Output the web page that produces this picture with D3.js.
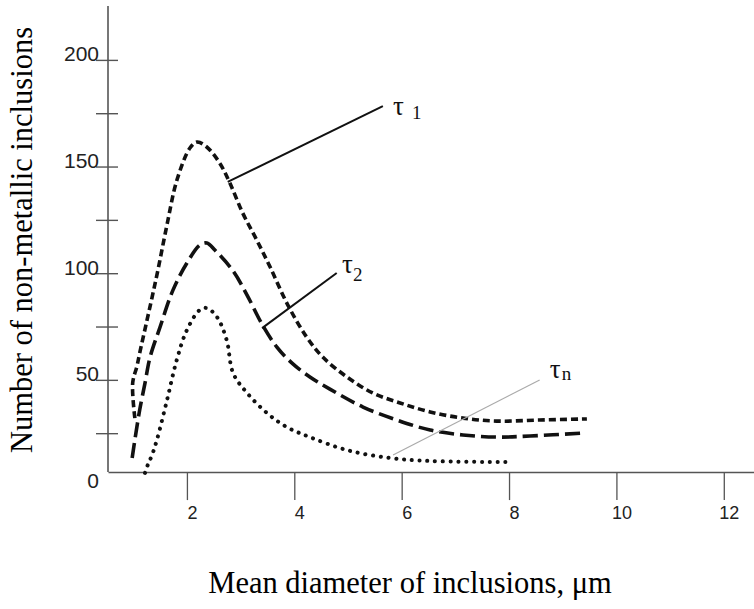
<!DOCTYPE html>
<meta charset="utf-8">
<style>
body{
  margin: 0;
  background: white;
}
.tick_lbl{
  font-family: "Liberation Sans", Arial, sans-serif;
  fill: #222;
}
.title_lbl{
  font-family: "Liberation Serif", "Times New Roman", serif;
  fill: black;
}
.tau_lbl{
  font-family: "Liberation Serif", "Times New Roman", serif;
  fill: #111;
}
</style>

<script src="https://d3js.org/d3.v7.min.js"></script>

<svg id="chart_svg"></svg>

<script>
// settings
var svg_width = 754, svg_height = 609;

// data: mean diameter (um) vs number of inclusions
var tau1X = [1.03, 0.99, 1.07, 1.125, 1.236, 1.348, 1.46, 1.628, 1.814, 2.056, 2.19, 2.37, 2.61, 2.80, 3.04, 3.30, 3.55, 3.88, 4.23, 4.53, 4.98, 5.46, 5.97, 6.53, 7.14, 7.77, 8.57, 9.45];
var tau1Y = [32.3, 48.8, 56.7, 63.3, 75.9, 88.6, 101.7, 122.8, 143.9, 158.9, 161.7, 159.4, 151.9, 142.5, 128.4, 115.8, 103.1, 85.3, 70.3, 60.9, 51.6, 44.1, 39.4, 35.2, 32.3, 30.9, 31.4, 31.9];

var tau2X = [0.98, 1.03, 1.12, 1.22, 1.31, 1.50, 1.74, 2.00, 2.24, 2.37, 2.52, 2.86, 3.12, 3.397, 3.676, 3.974, 4.291, 4.663, 5.28, 5.91, 6.53, 7.14, 7.77, 8.39, 9.37];
var tau2Y = [13.6, 22.0, 36.1, 48.8, 60.5, 75.0, 92.3, 105.0, 113.4, 114.4, 111.1, 101.3, 90.0, 76.4, 65.6, 57.7, 51.6, 45.9, 37.5, 31.4, 26.7, 24.4, 23.4, 23.9, 25.3];

var tauNX = [1.22, 1.27, 1.35, 1.44, 1.63, 1.81, 2.00, 2.24, 2.37, 2.56, 2.74, 2.86, 3.12, 3.49, 3.86, 4.29, 4.98, 5.78, 6.53, 7.98];
var tauNY = [6.6, 10.3, 15.0, 22.0, 40.8, 59.5, 73.6, 83.0, 83.9, 79.7, 68.9, 53.4, 44.1, 34.7, 28.1, 23.4, 17.3, 13.6, 12.2, 11.7];

// axis ticks and labels
var xTickValues = [2, 4, 6, 8, 10, 12];
var yTickValues = [25, 50, 75, 100, 125, 150, 175, 200];
var yLabelValues = [0, 50, 100, 150, 200];

// leader lines [x1, y1, x2, y2] in data units, and label anchors
var leaderTau1 = [2.76, 143.0, 5.65, 178.6];
var leaderTau2 = [3.40, 74.5, 4.79, 100.3];
var leaderTauN = [5.84, 15.0, 8.57, 50.2];
var labelTau1 = [5.84, 174.4], labelTau2 = [4.89, 100.3], labelTauN = [8.76, 51.1];

var xAxisBase = 7; // the horizontal axis sits a little above zero in the drawing

var svg = d3.select("#chart_svg")
  .attr("width", svg_width)
  .attr("height", svg_height)

var x = d3.scaleLinear().domain([0.53, 12.6]).range([108, 756])
var y = d3.scaleLinear().domain([0, 225.5]).range([487, 6])

// y axis
var yAxis = svg.append("g").attr("transform", "translate(" + x(0.53) + ",0)")
yAxis.append("line")
  .attr("y1", y(225.5)).attr("y2", y(xAxisBase))
  .attr("stroke", "#555").attr("stroke-width", 1.6)
yAxis.selectAll(".ytick")
  .data(yTickValues)
  .enter()
  .append("line")
    .attr("x1", -12).attr("x2", 10)
    .attr("y1", function(d){ return y(d) })
    .attr("y2", function(d){ return y(d) })
    .attr("stroke", "#555").attr("stroke-width", 1.4)
yAxis.selectAll(".ylbl")
  .data(yLabelValues)
  .enter()
  .append("text")
    .attr("class", "tick_lbl")
    .attr("x", -9)
    .attr("y", function(d){ return y(d) + 1 })
    .attr("text-anchor", "end")
    .style("font-size", "21px")
    .text(function(d){ return d })

// x axis
var xAxis = svg.append("g").attr("transform", "translate(0," + y(xAxisBase) + ")")
  .call(d3.axisBottom(x).tickValues(xTickValues).tickSize(28).tickSizeOuter(0).tickPadding(6))
xAxis.select(".domain").attr("stroke", "#555").attr("stroke-width", 1.6)
xAxis.selectAll(".tick line").attr("stroke", "#555").attr("stroke-width", 1.3)
xAxis.selectAll(".tick text")
  .attr("class", "tick_lbl")
  .attr("dx", 5)
  .style("font-size", "18px")

// curves
var line = d3.line()
  .x(function(d){ return x(d[0]) })
  .y(function(d){ return y(d[1]) })
  .curve(d3.curveCatmullRom.alpha(0.5))

function addCurve(xs, ys, dash, width, cap){
  svg.append("path")
    .datum(d3.zip(xs, ys))
    .attr("d", line)
    .attr("fill", "none")
    .attr("stroke", "#111")
    .attr("stroke-width", width)
    .attr("stroke-dasharray", dash)
    .attr("stroke-linecap", cap)
}
addCurve(tau1X, tau1Y, "7 4", 3.6, "butt")
addCurve(tau2X, tau2Y, "15 6", 3.6, "butt")
addCurve(tauNX, tauNY, "0.1 7.7", 4, "round")

// leader lines
function addLeader(l, color, w){
  svg.append("line")
    .attr("x1", x(l[0])).attr("y1", y(l[1]))
    .attr("x2", x(l[2])).attr("y2", y(l[3]))
    .attr("stroke", color).attr("stroke-width", w)
}
addLeader(leaderTau1, "#111", 2)
addLeader(leaderTau2, "#111", 2)
addLeader(leaderTauN, "#aaa", 1.2)

function addTau(p, sub, subDx, subDy){
  var t = svg.append("text")
    .attr("class", "tau_lbl")
    .attr("x", x(p[0]))
    .attr("y", y(p[1]))
    .style("font-size", "27px")
  t.append("tspan").text("τ")
  t.append("tspan").attr("dx", subDx).attr("dy", subDy).style("font-size", "19px").text(sub)
}
addTau(labelTau1, "1", 8, 4)
addTau(labelTau2, "2", 0, 8)
addTau(labelTauN, "n", 1, 2)

// titles
svg.append("text")
  .attr("class", "title_lbl")
  .attr("transform", "translate(32," + 240 + ") rotate(-90)")
  .attr("text-anchor", "middle")
  .style("font-size", "30.5px")
  .text("Number of non-metallic inclusions")

svg.append("text")
  .attr("class", "title_lbl")
  .attr("x", 410)
  .attr("y", 593)
  .attr("text-anchor", "middle")
  .style("font-size", "30.5px")
  .text("Mean diameter of inclusions, μm")
</script>
